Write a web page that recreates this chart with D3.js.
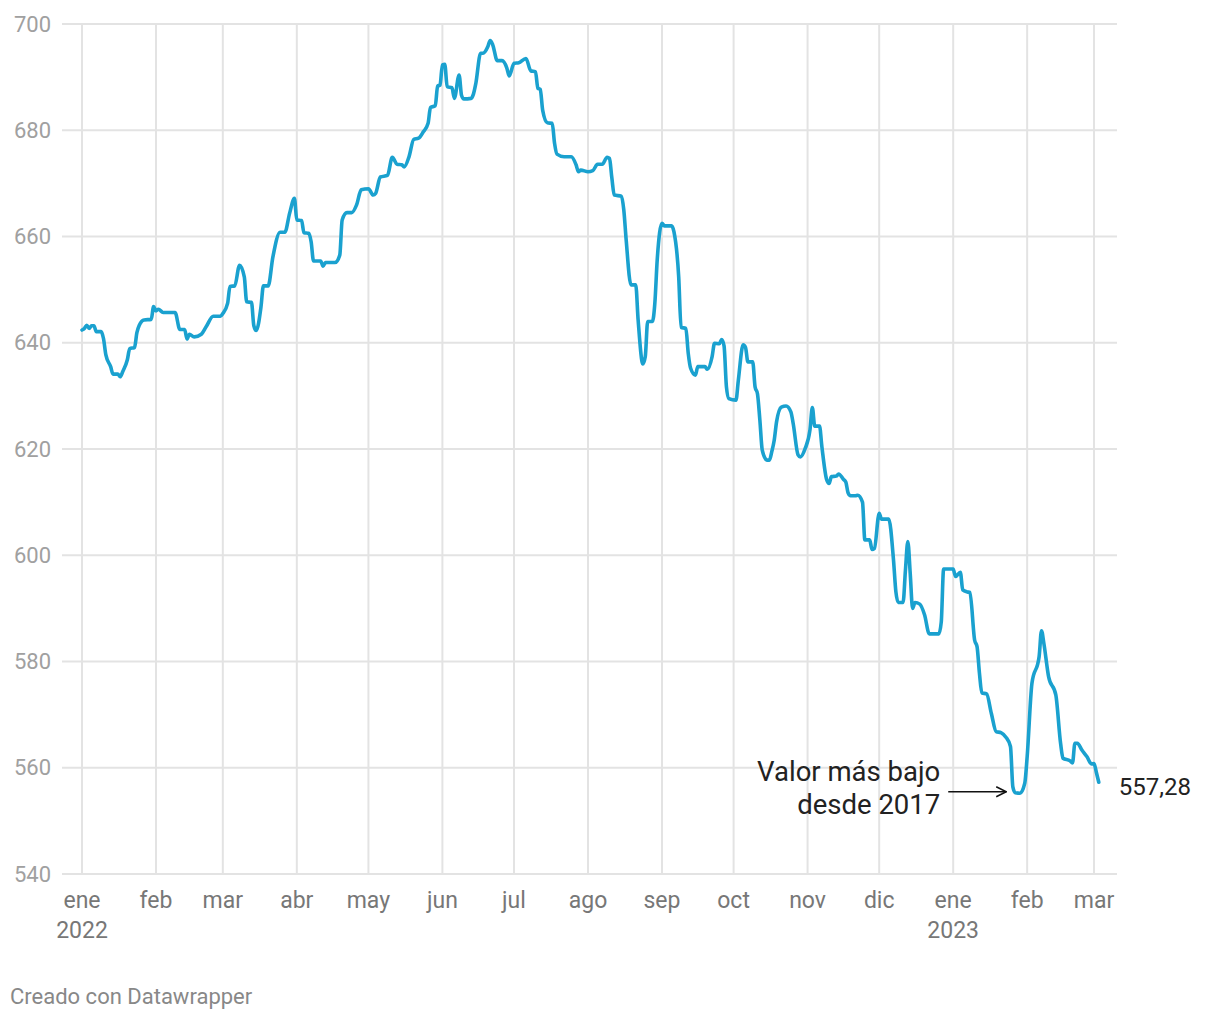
<!DOCTYPE html>
<html><head><meta charset="utf-8">
<script src="https://cdn.jsdelivr.net/npm/d3@7"></script>
<style>
html,body{margin:0;padding:0;background:#fff;}
svg text{font-family:Roboto,"Noto Sans",sans-serif;}
</style></head>
<body><svg id="c" width="1220" height="1020"></svg>
<script>
const dates = ["2022-01-01","2022-01-02","2022-01-03","2022-01-04","2022-01-05","2022-01-06","2022-01-07","2022-01-09","2022-01-10","2022-01-11","2022-01-13","2022-01-14","2022-01-16","2022-01-17","2022-01-18","2022-01-20","2022-01-21","2022-01-23","2022-01-24","2022-01-25","2022-01-27","2022-01-30","2022-01-31",
"2022-02-01","2022-02-02","2022-02-04","2022-02-09","2022-02-11","2022-02-13","2022-02-14","2022-02-15","2022-02-17","2022-02-20","2022-02-22","2022-02-25","2022-02-28",
"2022-03-01","2022-03-03","2022-03-04","2022-03-06","2022-03-08","2022-03-10","2022-03-11","2022-03-13","2022-03-14","2022-03-15","2022-03-17","2022-03-18","2022-03-20","2022-03-22","2022-03-25","2022-03-27","2022-03-29","2022-03-31",
"2022-04-01","2022-04-03","2022-04-04","2022-04-06","2022-04-07","2022-04-08","2022-04-11","2022-04-12","2022-04-13","2022-04-17","2022-04-19","2022-04-20","2022-04-22","2022-04-24","2022-04-26","2022-04-28",
"2022-05-01","2022-05-03","2022-05-04","2022-05-06","2022-05-09","2022-05-11","2022-05-13","2022-05-15","2022-05-16","2022-05-18","2022-05-20","2022-05-22","2022-05-24","2022-05-26","2022-05-27","2022-05-29","2022-05-30","2022-05-31",
"2022-06-01","2022-06-02","2022-06-03","2022-06-05","2022-06-06","2022-06-08","2022-06-09","2022-06-10","2022-06-13","2022-06-14","2022-06-15","2022-06-17","2022-06-18","2022-06-20","2022-06-21","2022-06-22","2022-06-24","2022-06-26","2022-06-28","2022-06-29",
"2022-07-01","2022-07-03","2022-07-06","2022-07-08","2022-07-10","2022-07-11","2022-07-12","2022-07-13","2022-07-15","2022-07-17","2022-07-18","2022-07-19","2022-07-22","2022-07-25","2022-07-27","2022-07-28","2022-07-29",
"2022-08-01","2022-08-03","2022-08-05","2022-08-07","2022-08-09","2022-08-10","2022-08-11","2022-08-12","2022-08-15","2022-08-16","2022-08-17","2022-08-19","2022-08-21","2022-08-22","2022-08-24","2022-08-25","2022-08-26","2022-08-28","2022-08-29","2022-08-30",
"2022-09-01","2022-09-02","2022-09-05","2022-09-06","2022-09-08","2022-09-09","2022-09-11","2022-09-12","2022-09-13","2022-09-15","2022-09-16","2022-09-19","2022-09-20","2022-09-22","2022-09-23","2022-09-25","2022-09-26","2022-09-27","2022-09-28","2022-09-29",
"2022-10-02","2022-10-03","2022-10-05","2022-10-06","2022-10-07","2022-10-09","2022-10-10","2022-10-11","2022-10-12","2022-10-13","2022-10-15","2022-10-16","2022-10-17","2022-10-18","2022-10-19","2022-10-21","2022-10-23","2022-10-25","2022-10-26","2022-10-28","2022-10-29","2022-10-31",
"2022-11-02","2022-11-03","2022-11-04","2022-11-06","2022-11-07","2022-11-09","2022-11-10","2022-11-11","2022-11-13","2022-11-14","2022-11-16","2022-11-17","2022-11-18","2022-11-19","2022-11-21","2022-11-22","2022-11-24","2022-11-25","2022-11-27","2022-11-28","2022-11-29",
"2022-12-01","2022-12-02","2022-12-05","2022-12-07","2022-12-08","2022-12-09","2022-12-11","2022-12-12","2022-12-13","2022-12-14","2022-12-15","2022-12-16","2022-12-18","2022-12-20","2022-12-22","2022-12-26","2022-12-27","2022-12-28",
"2023-01-01","2023-01-02","2023-01-04","2023-01-05","2023-01-07","2023-01-08","2023-01-10","2023-01-11","2023-01-12","2023-01-13","2023-01-15","2023-01-17","2023-01-19","2023-01-21","2023-01-23","2023-01-25","2023-01-26","2023-01-27","2023-01-29","2023-01-31",
"2023-02-01","2023-02-03","2023-02-06","2023-02-07","2023-02-08","2023-02-10","2023-02-13","2023-02-15","2023-02-16","2023-02-19","2023-02-20","2023-02-21","2023-02-22","2023-02-24","2023-02-26","2023-02-28",
"2023-03-01","2023-03-02","2023-03-03"];
const values = [642.4,642.7,643.3,642.7,643.2,643.2,642.1,642.1,640.8,637.7,635.5,634.1,634.1,633.6,634.5,636.8,638.9,639.1,641.9,643.3,644.3,644.4,646.8,
646.0,646.3,645.7,645.7,642.5,642.5,640.7,641.6,641.1,641.6,643.0,645.0,645.0,
645.5,647.4,650.6,650.7,654.6,652.4,647.7,647.6,643.2,642.3,646.8,650.7,650.7,656.2,660.8,660.8,664.4,667.2,
663.1,663.0,660.7,660.6,659.0,655.4,655.4,654.4,655.1,655.1,656.5,663.1,664.5,664.5,665.9,668.8,
669.0,667.8,668.1,671.2,671.5,674.9,673.6,673.5,673.1,675.0,678.3,678.5,679.7,681.3,684.3,684.6,688.3,688.5,
692.3,692.4,688.2,688.0,686.0,690.4,686.6,685.9,686.0,686.8,688.8,694.5,694.5,695.7,696.9,696.2,693.1,693.1,691.7,690.2,
692.6,692.7,693.5,691.2,691.0,687.9,687.7,683.8,681.4,681.3,677.5,675.5,675.0,675.0,673.5,672.2,672.5,
672.2,672.4,673.6,673.6,674.9,674.7,671.0,667.8,667.6,665.0,659.3,650.9,650.9,644.3,636.0,637.4,644.0,644.0,647.4,655.6,
662.5,662.0,662.0,660.9,652.4,642.9,642.7,638.0,635.2,633.9,635.5,635.5,635.0,637.4,639.9,639.8,640.6,639.4,631.7,629.5,
629.2,633.0,639.6,639.1,636.4,636.4,631.7,630.4,625.5,619.8,617.9,617.9,619.5,621.6,625.1,627.9,628.1,627.0,624.7,618.9,618.5,620.1,
623.6,627.8,624.3,624.3,620.4,614.2,613.5,614.8,614.9,615.3,614.3,613.8,611.7,611.2,611.2,611.3,610.0,602.9,602.9,601.1,601.3,
607.9,606.8,606.8,599.1,593.1,591.1,591.1,597.2,602.6,596.6,590.0,591.1,590.8,588.8,585.2,585.2,587.4,597.4,
597.4,596.0,596.8,593.5,593.1,593.0,584.0,582.8,577.8,574.1,573.9,570.2,566.8,566.6,565.8,564.0,556.4,555.3,555.2,557.1,
562.1,575.9,580.9,585.8,583.4,577.1,573.7,564.6,561.8,561.3,560.9,564.6,564.6,563.3,562.1,560.7,
560.8,559.1,557.28];
const yTicks = [540,560,580,600,620,640,660,680,700];
const monthTicks = ["2022-01-01","2022-02-01","2022-03-01","2022-04-01","2022-05-01","2022-06-01","2022-07-01","2022-08-01","2022-09-01","2022-10-01","2022-11-01","2022-12-01","2023-01-01","2023-02-01","2023-03-01"];
const monthLabels = ["ene","feb","mar","abr","may","jun","jul","ago","sep","oct","nov","dic","ene","feb","mar"];
const yearLabels = {"2022-01-01":"2022","2023-01-01":"2023"};
const lastLabel = "557,28";
const annotLines = ["Valor más bajo","desde 2017"];
const annotDate = "2023-01-27", annotValue = 555.3;

const parse = d3.timeParse("%Y-%m-%d");
const data = dates.map((d,i)=>({date:parse(d), value:values[i]}));
const svg = d3.select("#c");
const x = d3.scaleTime().domain([parse("2022-01-01"), parse("2023-03-01")]).range([82,1094]);
const y = d3.scaleLinear().domain([540,700]).range([874,24]);
const left = 62, right = 1117;

svg.append("g").selectAll("line").data(yTicks).join("line")
  .attr("x1",left).attr("x2",right).attr("y1",d=>y(d)).attr("y2",d=>y(d))
  .attr("stroke","#e3e3e3").attr("stroke-width",2);
svg.append("g").selectAll("line").data(monthTicks).join("line")
  .attr("x1",d=>x(parse(d))).attr("x2",d=>x(parse(d)))
  .attr("y1",y(700)).attr("y2",y(540))
  .attr("stroke","#e3e3e3").attr("stroke-width",2);

svg.append("g").selectAll("text").data(yTicks).join("text")
  .attr("x",51).attr("y",d=>y(d)).attr("dy","0.35em")
  .attr("text-anchor","end").attr("font-size",22).attr("fill","#a0a0a0")
  .text(d=>d);
const xl = svg.append("g");
xl.selectAll("text.m").data(monthTicks).join("text").attr("class","m")
  .attr("x",d=>x(parse(d))).attr("y",908)
  .attr("text-anchor","middle").attr("font-size",23).attr("fill","#777")
  .text((d,i)=>monthLabels[i]);
xl.selectAll("text.yr").data(monthTicks.filter(d=>yearLabels[d])).join("text").attr("class","yr")
  .attr("x",d=>x(parse(d))).attr("y",938)
  .attr("text-anchor","middle").attr("font-size",23).attr("fill","#777")
  .text(d=>yearLabels[d]);

svg.append("path").datum(data)
  .attr("fill","none").attr("stroke","#1aa1cf").attr("stroke-width",3.6)
  .attr("stroke-linejoin","round").attr("stroke-linecap","round")
  .attr("d", d3.line().x(d=>x(d.date)).y(d=>y(d.value)).curve(d3.curveMonotoneX));

const last = data[data.length-1];
svg.append("text").attr("x",x(last.date)+20).attr("y",y(last.value)+4).attr("dy","0.35em")
  .attr("font-size",24).attr("fill","#222").text(lastLabel);

const ax = x(parse(annotDate)), ay = y(annotValue);
svg.append("defs").append("marker").attr("id","arr").attr("viewBox","0 0 12 12")
  .attr("refX",11).attr("refY",6).attr("markerWidth",12).attr("markerHeight",12)
  .attr("markerUnits","userSpaceOnUse").attr("orient","auto")
  .append("path").attr("d","M1,1 L11,6 L1,11").attr("fill","none").attr("stroke","#111").attr("stroke-width",1.5);
svg.append("line").attr("x1",ax-67).attr("x2",ax-9).attr("y1",ay-1).attr("y2",ay-1)
  .attr("stroke","#111").attr("stroke-width",1.5).attr("marker-end","url(#arr)");
svg.append("g").selectAll("text").data(annotLines).join("text")
  .attr("x",ax-75).attr("y",(d,i)=>ay-12+i*33).attr("text-anchor","end")
  .attr("font-size",27.5).attr("fill","#222").text(d=>d);

svg.append("text").attr("x",10).attr("y",1004).attr("font-size",22).attr("fill","#888")
  .text("Creado con Datawrapper");
</script></body></html>
